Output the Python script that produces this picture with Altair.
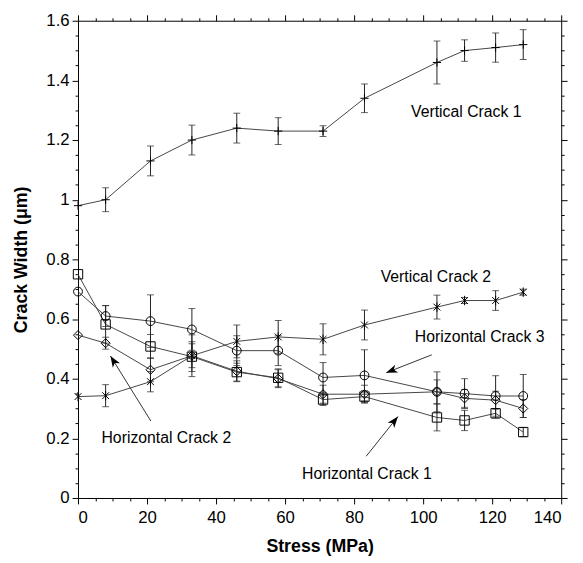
import altair as alt
import pandas as pd
import numpy as np

# ---------------- data ----------------
stress = [0, 8, 21, 33, 46, 58, 71, 83, 104, 112, 121, 129]

series_names = ["Vertical Crack 1", "Vertical Crack 2", "Horizontal Crack 3",
                "Horizontal Crack 2", "Horizontal Crack 1"]

v1 = [0.98, 1.00, 1.13, 1.20, 1.24, 1.23, 1.23, 1.34, 1.46, 1.50, 1.51, 1.52]
v1_err = [0, 0.04, 0.05, 0.05, 0.05, 0.045, 0.018, 0.048, 0.072, 0.036, 0.049, 0.05]

v2 = [0.34, 0.343, 0.39, 0.477, 0.525, 0.54, 0.532, 0.58, 0.64, 0.662, 0.662, 0.69]
v2_err = [0, 0.037, 0.034, 0.07, 0.055, 0.055, 0.052, 0.05, 0.04, 0.01, 0.033, 0.01]

h3 = [0.692, 0.61, 0.593, 0.565, 0.494, 0.494, 0.404, 0.411, 0.356, 0.35, 0.342, 0.342]
h3_err = [0, 0.035, 0.088, 0.07, 0.05, 0.05, 0.05, 0.086, 0.067, 0.05, 0.068, 0.072]

h2 = [0.546, 0.519, 0.43, 0.477, 0.425, 0.40, 0.348, 0.348, 0.356, 0.334, 0.328, 0.30]
h2_err = [0, 0.02, 0.04, 0.04, 0.035, 0.03, 0.03, 0.03, 0.04, 0.03, 0.03, 0.03]

h1 = [0.75, 0.582, 0.508, 0.474, 0.422, 0.403, 0.33, 0.34, 0.27, 0.26, 0.284, 0.221]
h1_err = [0, 0.063, 0.04, 0.05, 0.03, 0.03, 0.02, 0.02, 0.045, 0.034, 0.016, 0.015]

label_text = ["Vertical Crack 1", "Vertical Crack 2", "Horizontal Crack 3",
              "Horizontal Crack 2", "Horizontal Crack 1"]
label_x = [96.5, 87.7, 97.6, 6.8, 64.9]
label_y = [1.293, 0.739, 0.538, 0.200, 0.080]

# arrows: tail (x0, y0) -> tip (x1, y1)
arrow_x0 = [21.1, 102.5, 83.5]
arrow_y0 = [0.258, 0.48, 0.14]
arrow_x1 = [9.4, 89.3, 92.7]
arrow_y1 = [0.476, 0.42, 0.273]

x_ticks = [0, 5, 10, 15, 20, 25, 30, 35, 40, 45, 50, 55, 60, 65, 70, 75, 80,
           85, 90, 95, 100, 105, 110, 115, 120, 125, 130, 135, 140]
y_ticks = [0, 0.05, 0.1, 0.15, 0.2, 0.25, 0.3, 0.35, 0.4, 0.45, 0.5, 0.55,
           0.6, 0.65, 0.7, 0.75, 0.8, 0.85, 0.9, 0.95, 1, 1.05, 1.1, 1.15,
           1.2, 1.25, 1.3, 1.35, 1.4, 1.45, 1.5, 1.55, 1.6]

# ---------------- tables ----------------
vals = [v1, v2, h3, h2, h1]
errs = [v1_err, v2_err, h3_err, h2_err, h1_err]
rows = []
for name, vs, es in zip(series_names, vals, errs):
    for s, v, e in zip(stress, vs, es):
        rows.append({"stress": s, "width": v, "err": e, "series": name,
                     "lo": v - e, "hi": v + e})
df = pd.DataFrame(rows)
df_err = df[df["err"] > 0]

labels_df = pd.DataFrame({"text": label_text, "x": label_x, "y": label_y})

PXX = 490 / 140.0
PXY = 484 / 1.6
ang = []
for a0, b0, a1, b1 in zip(arrow_x0, arrow_y0, arrow_x1, arrow_y1):
    dx = (a1 - a0) * PXX
    dy = -(b1 - b0) * PXY  # screen down positive
    theta = np.degrees(np.arctan2(dx, -dy)) % 360
    ang.append(float(theta))
arrows_df = pd.DataFrame({"x0": arrow_x0, "y0": arrow_y0, "x1": arrow_x1,
                          "y1": arrow_y1, "angle": ang})

FONT = "Liberation Sans"
xs = alt.Scale(domain=[0, 140], nice=False, zero=False)
ys = alt.Scale(domain=[0, 1.6], nice=False, zero=False)

X_MAJOR = "abs(datum.value / 20 - round(datum.value / 20)) < 0.001"
Y_MAJOR = "abs(datum.value * 5 - round(datum.value * 5)) < 0.001"

x_tick_size = {"condition": {"test": X_MAJOR, "value": 6}, "value": 3}
y_tick_size = {"condition": {"test": Y_MAJOR, "value": 6}, "value": 3}

shape_range = [
    "M-1,0L1,0M0,-1L0,1",
    "M-0.8,-0.8L0.8,0.8M-0.8,0.8L0.8,-0.8M0,-1.1L0,1.1",
    "circle",
    "diamond",
    "square",
]
size_range = [70, 90, 50, 45, 50]

# main lines layer with labelled axes (bottom / left)
lines = alt.Chart(df).mark_line(color="#444444", strokeWidth=1).encode(
    x=alt.X("stress:Q", scale=xs,
            axis=alt.Axis(orient="bottom", values=x_ticks,
                          tickSize=x_tick_size,
                          labelExpr=X_MAJOR + " ? datum.label : ''",
                          labelFont=FONT, labelFontSize=17,
                          labelColor="black", labelPadding=6,
                          title="Stress (MPa)", titleFont=FONT,
                          titleFontSize=18, titleFontWeight="bold",
                          titleColor="black", titlePadding=12, grid=False,
                          domainColor="black", tickColor="black",
                          domainWidth=1, tickWidth=1)),
    y=alt.Y("width:Q", scale=ys,
            axis=alt.Axis(orient="left", values=y_ticks,
                          tickSize=y_tick_size, format="~g",
                          labelExpr=Y_MAJOR + " ? datum.label : ''",
                          labelFont=FONT, labelFontSize=17,
                          labelColor="black", labelPadding=3,
                          title="Crack Width (\u03bcm)", titleFont=FONT,
                          titleFontSize=18, titleFontWeight="bold",
                          titleColor="black", titlePadding=16, grid=False,
                          domainColor="black", tickColor="black",
                          domainWidth=1, tickWidth=1)),
    detail="series:N",
)

# ticks on top / right
frame_tr = alt.Chart(df).mark_point(opacity=0).encode(
    x=alt.X("stress:Q", scale=xs,
            axis=alt.Axis(orient="top", values=x_ticks, tickSize=x_tick_size,
                          labels=False, title="", grid=False,
                          domainColor="black", tickColor="black",
                          tickWidth=1, domainWidth=1)),
    y=alt.Y("width:Q", scale=ys,
            axis=alt.Axis(orient="right", values=y_ticks,
                          tickSize=y_tick_size, labels=False, title="",
                          grid=False, domainColor="black", tickColor="black",
                          tickWidth=1, domainWidth=1)),
)

ebar = alt.Chart(df_err).mark_rule(color="#222222", strokeWidth=1).encode(
    x=alt.X("stress:Q", scale=xs, axis=None),
    y=alt.Y("lo:Q", scale=ys, axis=None),
    y2="hi:Q",
)
cap_lo = alt.Chart(df_err).mark_tick(color="#222222", thickness=1, size=7,
                                     orient="horizontal").encode(
    x=alt.X("stress:Q", scale=xs, axis=None),
    y=alt.Y("lo:Q", scale=ys, axis=None),
)
cap_hi = alt.Chart(df_err).mark_tick(color="#222222", thickness=1, size=7,
                                     orient="horizontal").encode(
    x=alt.X("stress:Q", scale=xs, axis=None),
    y=alt.Y("hi:Q", scale=ys, axis=None),
)

points = alt.Chart(df).mark_point(filled=False, color="black",
                                  strokeWidth=1, opacity=1).encode(
    x=alt.X("stress:Q", scale=xs, axis=None),
    y=alt.Y("width:Q", scale=ys, axis=None),
    shape=alt.Shape("series:N", scale=alt.Scale(domain=series_names,
                                                range=shape_range),
                    legend=None),
    size=alt.Size("series:N", scale=alt.Scale(domain=series_names,
                                              range=size_range),
                  legend=None),
)

texts = alt.Chart(labels_df).mark_text(align="left", baseline="middle",
                                       font=FONT, fontSize=16,
                                       color="black").encode(
    x=alt.X("x:Q", scale=xs, axis=None),
    y=alt.Y("y:Q", scale=ys, axis=None),
    text="text:N",
)

arrow_lines = alt.Chart(arrows_df).mark_rule(color="#333333",
                                             strokeWidth=1).encode(
    x=alt.X("x0:Q", scale=xs, axis=None),
    y=alt.Y("y0:Q", scale=ys, axis=None),
    x2="x1:Q",
    y2="y1:Q",
)
arrow_heads = alt.Chart(arrows_df).mark_point(
    shape="M0,0L0.75,2L0,1.45L-0.75,2Z", filled=True, color="black",
    size=130, opacity=1).encode(
    x=alt.X("x1:Q", scale=xs, axis=None),
    y=alt.Y("y1:Q", scale=ys, axis=None),
    angle=alt.Angle("angle:Q", scale=None),
)

chart = alt.layer(
    lines, frame_tr, ebar, cap_lo, cap_hi, points,
    texts, arrow_lines, arrow_heads,
).resolve_scale(x="shared", y="shared").resolve_axis(
    x="independent", y="independent"
).properties(
    width=490, height=484,
    padding={"left": 71, "top": 9, "right": 14, "bottom": 62},
    autosize=alt.AutoSizeParams(type="none"),
    background="white",
).configure_view(stroke=None)

chart.save("out.html", embed_options={"renderer": "svg", "actions": False})
